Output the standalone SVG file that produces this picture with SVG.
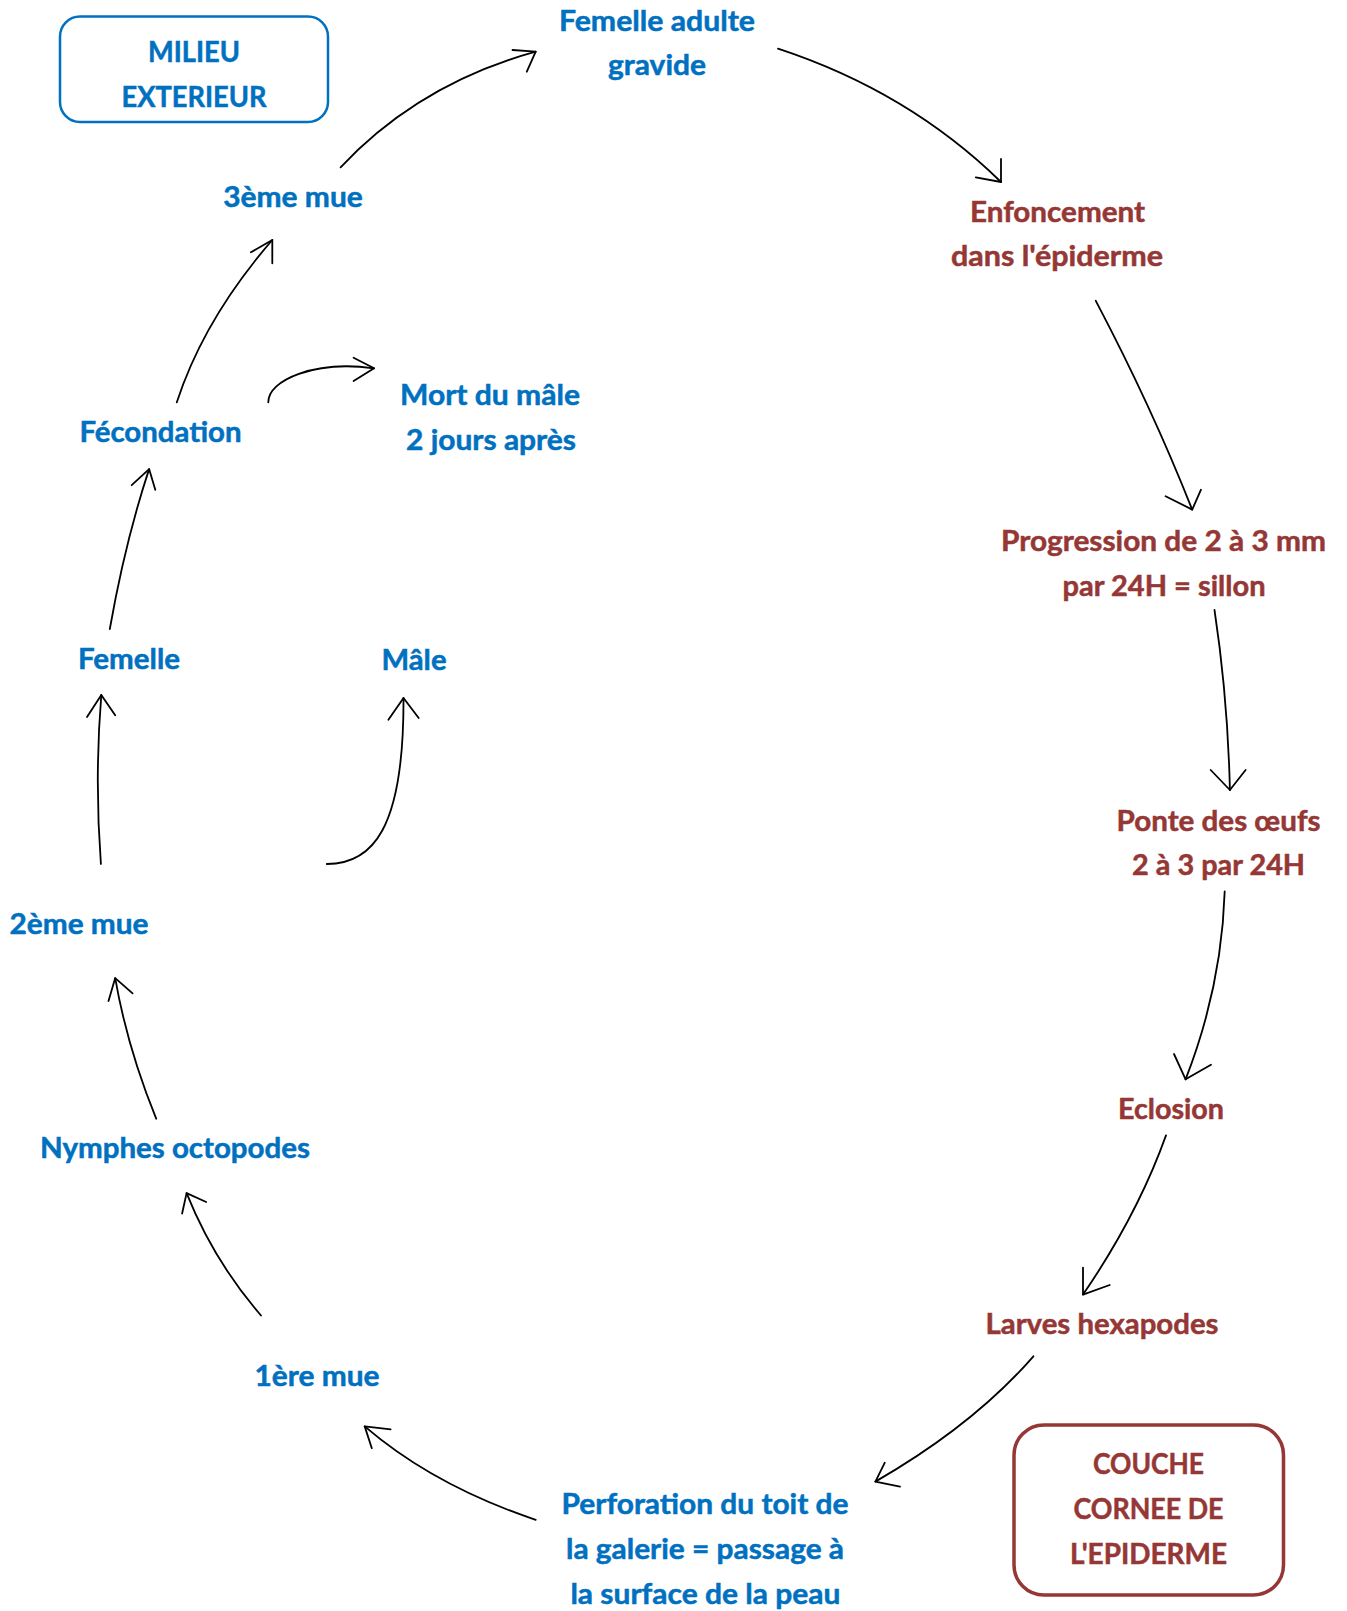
<svg xmlns="http://www.w3.org/2000/svg" width="1347" height="1611" viewBox="0 0 1347 1611">
<style>
text{font-family:Lato,"Liberation Sans",sans-serif;font-weight:bold;font-size:28.5px;text-anchor:middle;stroke-width:0.5;paint-order:stroke}
.b{fill:#0070C0;stroke:#0070C0}
.r{fill:#953735;stroke:#953735}
.c{fill:none;stroke:#000;stroke-width:1.8;stroke-linecap:round;stroke-linejoin:round}
.boxb{fill:none;stroke:#0070C0;stroke-width:2.5}
.boxr{fill:none;stroke:#953735;stroke-width:3.5}
</style>
<rect width="1347" height="1611" fill="#fff"/>
<g id="milieu">
<rect class="boxb" x="60" y="16.5" width="268" height="105.5" rx="20"/>
<text class="b" x="194" y="62" textLength="92" lengthAdjust="spacingAndGlyphs">MILIEU</text>
<text class="b" x="194" y="107" textLength="145" lengthAdjust="spacingAndGlyphs">EXTERIEUR</text>
</g>
<g id="couche">
<rect class="boxr" x="1014" y="1425" width="269.5" height="170" rx="30"/>
<text class="r" x="1148.5" y="1474" textLength="111" lengthAdjust="spacingAndGlyphs">COUCHE</text>
<text class="r" x="1148.5" y="1519" textLength="150" lengthAdjust="spacingAndGlyphs">CORNEE DE</text>
<text class="r" x="1148.5" y="1564" textLength="157" lengthAdjust="spacingAndGlyphs">L'EPIDERME</text>
</g>
<g id="femelle-adulte">
<text class="b" x="657" y="31" textLength="196" lengthAdjust="spacingAndGlyphs">Femelle adulte</text>
<text class="b" x="657" y="75" textLength="98" lengthAdjust="spacingAndGlyphs">gravide</text>
</g>
<g id="enfoncement">
<text class="r" x="1057.5" y="222" textLength="175" lengthAdjust="spacingAndGlyphs">Enfoncement</text>
<text class="r" x="1057" y="266" textLength="212" lengthAdjust="spacingAndGlyphs">dans l'épiderme</text>
</g>
<g id="progression">
<text class="r" x="1163.5" y="551" textLength="325" lengthAdjust="spacingAndGlyphs">Progression de 2 à 3 mm</text>
<text class="r" x="1164" y="596" textLength="203" lengthAdjust="spacingAndGlyphs">par 24H = sillon</text>
</g>
<g id="ponte">
<text class="r" x="1218.6" y="831" textLength="204" lengthAdjust="spacingAndGlyphs">Ponte des œufs</text>
<text class="r" x="1218.6" y="875" textLength="173" lengthAdjust="spacingAndGlyphs">2 à 3 par 24H</text>
</g>
<g id="eclosion">
<text class="r" x="1171" y="1119" textLength="106" lengthAdjust="spacingAndGlyphs">Eclosion</text>
</g>
<g id="larves">
<text class="r" x="1102" y="1334" textLength="233" lengthAdjust="spacingAndGlyphs">Larves hexapodes</text>
</g>
<g id="perforation">
<text class="b" x="705" y="1514" textLength="287" lengthAdjust="spacingAndGlyphs">Perforation du toit de</text>
<text class="b" x="705" y="1559" textLength="278" lengthAdjust="spacingAndGlyphs">la galerie = passage à</text>
<text class="b" x="705.4" y="1604" textLength="270" lengthAdjust="spacingAndGlyphs">la surface de la peau</text>
</g>
<g id="mue1">
<text class="b" x="317" y="1386" textLength="125" lengthAdjust="spacingAndGlyphs">1ère mue</text>
</g>
<g id="nymphes">
<text class="b" x="175" y="1158" textLength="270" lengthAdjust="spacingAndGlyphs">Nymphes octopodes</text>
</g>
<g id="mue2">
<text class="b" x="79" y="934" textLength="139" lengthAdjust="spacingAndGlyphs">2ème mue</text>
</g>
<g id="femelle">
<text class="b" x="129" y="669" textLength="102" lengthAdjust="spacingAndGlyphs">Femelle</text>
</g>
<g id="male">
<text class="b" x="414" y="670" textLength="65" lengthAdjust="spacingAndGlyphs">Mâle</text>
</g>
<g id="fecondation">
<text class="b" x="160.5" y="442" textLength="162" lengthAdjust="spacingAndGlyphs">Fécondation</text>
</g>
<g id="mort">
<text class="b" x="490" y="405" textLength="180" lengthAdjust="spacingAndGlyphs">Mort du mâle</text>
<text class="b" x="491" y="450" textLength="170" lengthAdjust="spacingAndGlyphs">2 jours après</text>
</g>
<g id="mue3">
<text class="b" x="293" y="207" textLength="139.5" lengthAdjust="spacingAndGlyphs">3ème mue</text>
</g>
<g id="connectors">
<path class="c" d="M340.6,167.3 Q419,83.9 535.7,51.7"/>
<polyline class="c" points="512.5,50 535.7,51.7 526.8,71.7"/>
<path class="c" d="M778,48.7 Q908.3,91.5 1001,182"/>
<polyline class="c" points="975.8,177.4 1001,182 1001,159"/>
<path class="c" d="M1095.8,300.8 Q1151.6,406.8 1192.2,509.6"/>
<polyline class="c" points="1165.6,496.2 1192.2,509.6 1201,489.7"/>
<path class="c" d="M1214.5,610 Q1227.8,698 1229.9,790"/>
<polyline class="c" points="1210.7,770 1229.9,790 1245.6,770"/>
<path class="c" d="M1224.7,891.4 Q1221.8,986.6 1185.6,1079.3"/>
<polyline class="c" points="1174,1054 1185.6,1079.3 1211,1064.7"/>
<path class="c" d="M1166,1135.4 Q1137.5,1215 1083,1294.6"/>
<polyline class="c" points="1083,1267.7 1083,1294.6 1109.7,1285"/>
<path class="c" d="M1033.4,1356.3 Q973.6,1425 875.4,1481.6"/>
<polyline class="c" points="884.8,1462.7 875.4,1481.6 900,1486.6"/>
<path class="c" d="M535.7,1519.8 Q433.8,1485.7 364.7,1426.4"/>
<polyline class="c" points="390.6,1429.3 364.7,1426.4 371.8,1448.2"/>
<path class="c" d="M261,1315.5 Q213.6,1260.7 186.6,1193.1"/>
<polyline class="c" points="182.1,1213.5 186.6,1193.1 206.2,1202"/>
<path class="c" d="M156.2,1118.7 Q127.3,1047.6 115.2,978.1"/>
<polyline class="c" points="108.5,1001 115.2,978.1 132.6,993.4"/>
<path class="c" d="M100.9,864 Q94.5,778.5 101.3,695"/>
<polyline class="c" points="87,717 101.3,695 115.2,715.2"/>
<path class="c" d="M326.8,864 C372,864 404,830 403.5,698"/>
<polyline class="c" points="388.4,719.8 403.5,698 418.7,718"/>
<path class="c" d="M109.8,629 Q125,542.4 149.1,469.1"/>
<polyline class="c" points="131.7,485.2 149.1,469.1 155.3,489.8"/>
<path class="c" d="M176.8,402.3 Q204,318.8 272.3,240"/>
<polyline class="c" points="250.9,252.3 272.3,240 272.3,263.3"/>
<path class="c" d="M268.3,402.3 C268,380 315,360 374.1,368.3"/>
<polyline class="c" points="353.6,357.7 374.1,368.3 353.6,381"/>
</g>
</svg>
